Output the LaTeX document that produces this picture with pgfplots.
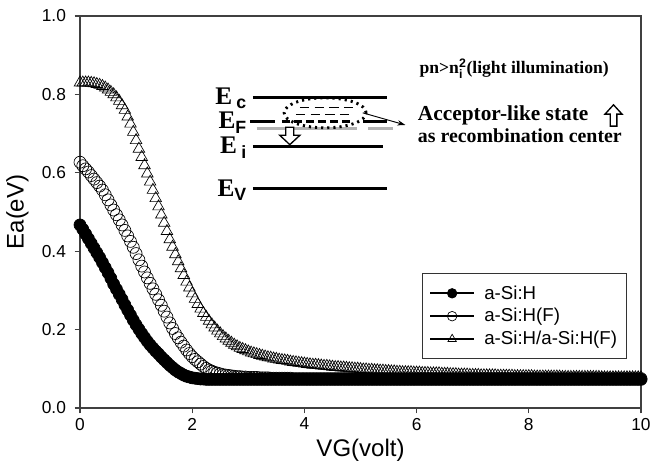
\documentclass[border=0pt]{standalone}
\usepackage{pgfplots}
\pgfplotsset{compat=1.18}
\usepackage{pgfplotstable}
\usepackage{fontspec}
\setmainfont{Liberation Sans}
\newfontfamily\serifb{Liberation Serif}
\usetikzlibrary{arrows.meta}
\pgfplotstableread{
x a b c
0.00 0.467 0.627 0.830
0.05 0.456 0.618 0.830
0.10 0.444 0.610 0.830
0.15 0.432 0.602 0.830
0.20 0.420 0.593 0.829
0.25 0.408 0.584 0.828
0.30 0.396 0.575 0.826
0.35 0.384 0.566 0.824
0.40 0.371 0.556 0.821
0.45 0.358 0.544 0.817
0.50 0.345 0.531 0.812
0.55 0.331 0.518 0.806
0.60 0.316 0.505 0.800
0.65 0.303 0.493 0.792
0.70 0.290 0.480 0.783
0.75 0.277 0.467 0.772
0.80 0.263 0.453 0.760
0.85 0.250 0.439 0.743
0.90 0.237 0.425 0.725
0.95 0.224 0.410 0.704
1.00 0.212 0.394 0.683
1.05 0.201 0.378 0.661
1.10 0.190 0.362 0.640
1.15 0.180 0.347 0.619
1.20 0.170 0.332 0.598
1.25 0.161 0.318 0.577
1.30 0.153 0.304 0.556
1.35 0.145 0.290 0.535
1.40 0.138 0.276 0.514
1.45 0.130 0.262 0.493
1.50 0.123 0.247 0.472
1.55 0.116 0.232 0.451
1.60 0.109 0.217 0.430
1.65 0.103 0.203 0.411
1.70 0.097 0.190 0.392
1.75 0.092 0.179 0.374
1.80 0.088 0.168 0.356
1.85 0.084 0.158 0.339
1.90 0.081 0.148 0.322
1.95 0.079 0.139 0.307
2.00 0.077 0.131 0.292
2.05 0.076 0.124 0.278
2.10 0.075 0.118 0.265
2.15 0.074 0.112 0.253
2.20 0.074 0.106 0.242
2.25 0.073 0.101 0.232
2.30 0.073 0.097 0.222
2.35 0.073 0.094 0.213
2.40 0.073 0.091 0.205
2.45 0.073 0.089 0.197
2.50 0.073 0.087 0.190
2.55 0.073 0.085 0.183
2.60 0.073 0.084 0.177
2.65 0.073 0.083 0.171
2.70 0.073 0.082 0.166
2.75 0.073 0.081 0.161
2.80 0.073 0.080 0.157
2.85 0.073 0.080 0.153
2.90 0.073 0.079 0.150
2.95 0.073 0.079 0.147
3.00 0.073 0.078 0.144
3.05 0.073 0.078 0.141
3.10 0.073 0.078 0.139
3.15 0.073 0.078 0.137
3.20 0.073 0.077 0.135
3.25 0.073 0.077 0.133
3.30 0.073 0.077 0.131
3.35 0.073 0.077 0.129
3.40 0.073 0.076 0.128
3.45 0.073 0.076 0.126
3.50 0.073 0.076 0.125
3.55 0.073 0.076 0.123
3.60 0.073 0.076 0.122
3.65 0.073 0.076 0.121
3.70 0.073 0.076 0.120
3.75 0.073 0.076 0.118
3.80 0.073 0.075 0.117
3.85 0.073 0.075 0.116
3.90 0.073 0.075 0.115
3.95 0.073 0.075 0.114
4.00 0.073 0.075 0.113
4.05 0.073 0.075 0.112
4.10 0.073 0.075 0.111
4.15 0.073 0.075 0.110
4.20 0.073 0.075 0.110
4.25 0.073 0.075 0.109
4.30 0.073 0.075 0.108
4.35 0.073 0.075 0.107
4.40 0.073 0.075 0.107
4.45 0.073 0.075 0.106
4.50 0.073 0.075 0.105
4.55 0.073 0.075 0.104
4.60 0.073 0.075 0.104
4.65 0.073 0.075 0.103
4.70 0.073 0.075 0.103
4.75 0.073 0.075 0.102
4.80 0.073 0.075 0.101
4.85 0.073 0.075 0.101
4.90 0.073 0.075 0.100
4.95 0.073 0.075 0.100
5.00 0.073 0.075 0.099
5.05 0.073 0.075 0.098
5.10 0.073 0.075 0.098
5.15 0.073 0.075 0.097
5.20 0.073 0.075 0.097
5.25 0.073 0.075 0.096
5.30 0.073 0.075 0.096
5.35 0.073 0.075 0.095
5.40 0.073 0.075 0.095
5.45 0.073 0.075 0.094
5.50 0.073 0.075 0.094
5.55 0.073 0.075 0.093
5.60 0.073 0.075 0.093
5.65 0.073 0.075 0.092
5.70 0.073 0.075 0.092
5.75 0.073 0.075 0.091
5.80 0.073 0.075 0.091
5.85 0.073 0.075 0.091
5.90 0.073 0.075 0.091
5.95 0.073 0.075 0.090
6.00 0.073 0.075 0.090
6.05 0.073 0.075 0.090
6.10 0.073 0.075 0.089
6.15 0.073 0.075 0.089
6.20 0.073 0.075 0.089
6.25 0.073 0.075 0.088
6.30 0.073 0.075 0.088
6.35 0.073 0.075 0.088
6.40 0.073 0.075 0.088
6.45 0.073 0.075 0.087
6.50 0.073 0.075 0.087
6.55 0.073 0.075 0.087
6.60 0.073 0.075 0.086
6.65 0.073 0.075 0.086
6.70 0.073 0.075 0.086
6.75 0.073 0.075 0.085
6.80 0.073 0.075 0.085
6.85 0.073 0.075 0.085
6.90 0.073 0.075 0.085
6.95 0.073 0.075 0.084
7.00 0.073 0.075 0.084
7.05 0.073 0.075 0.084
7.10 0.073 0.075 0.084
7.15 0.073 0.075 0.083
7.20 0.073 0.075 0.083
7.25 0.073 0.075 0.083
7.30 0.073 0.075 0.083
7.35 0.073 0.075 0.083
7.40 0.073 0.075 0.083
7.45 0.073 0.075 0.082
7.50 0.073 0.075 0.082
7.55 0.073 0.075 0.082
7.60 0.073 0.075 0.082
7.65 0.073 0.075 0.082
7.70 0.073 0.075 0.082
7.75 0.073 0.075 0.081
7.80 0.073 0.075 0.081
7.85 0.073 0.075 0.081
7.90 0.073 0.075 0.081
7.95 0.073 0.075 0.081
8.00 0.073 0.075 0.081
8.05 0.073 0.075 0.081
8.10 0.073 0.075 0.080
8.15 0.073 0.075 0.080
8.20 0.073 0.075 0.080
8.25 0.073 0.075 0.080
8.30 0.073 0.075 0.080
8.35 0.073 0.075 0.080
8.40 0.073 0.075 0.080
8.45 0.073 0.075 0.080
8.50 0.073 0.075 0.080
8.55 0.073 0.075 0.080
8.60 0.073 0.075 0.079
8.65 0.073 0.075 0.079
8.70 0.073 0.075 0.079
8.75 0.073 0.075 0.079
8.80 0.073 0.075 0.079
8.85 0.073 0.075 0.079
8.90 0.073 0.075 0.079
8.95 0.073 0.075 0.079
9.00 0.073 0.075 0.079
9.05 0.073 0.075 0.079
9.10 0.073 0.075 0.079
9.15 0.073 0.075 0.079
9.20 0.073 0.075 0.079
9.25 0.073 0.075 0.079
9.30 0.073 0.075 0.078
9.35 0.073 0.075 0.078
9.40 0.073 0.075 0.078
9.45 0.073 0.075 0.078
9.50 0.073 0.075 0.078
9.55 0.073 0.075 0.078
9.60 0.073 0.075 0.078
9.65 0.073 0.075 0.078
9.70 0.073 0.075 0.078
9.75 0.073 0.075 0.078
9.80 0.073 0.075 0.078
9.85 0.073 0.075 0.078
9.90 0.073 0.075 0.078
9.95 0.073 0.075 0.078
10.00 0.073 0.075 0.078
}\data
\begin{document}
\begin{tikzpicture}
\path[use as bounding box] (-60pt,-48pt) rectangle (427.5pt,306pt);
\begin{axis}[
  at={(0,0)}, anchor=south west,
  scale only axis, width=420.75pt, height=294pt,
  xmin=0, xmax=10, ymin=0, ymax=1,
  xtick={0,2,4,6,8,10}, ytick={0,0.2,0.4,0.6,0.8,1.0},
  yticklabel style={xshift=-3pt, /pgf/number format/.cd, fixed, fixed zerofill, precision=1},
  /pgf/number format/assume math mode=true,
  tick align=outside, tick pos=left,
  major tick length=4pt,
  axis line style={black!75, line width=0.8pt},
  every tick/.style={black!75, line width=0.8pt},
  tick label style={font=\fontsize{13}{15}\selectfont},
  xlabel={VG(volt)}, ylabel={Ea(eV)},
  label style={font=\fontsize{18}{20}\selectfont},
  ylabel style={yshift=3pt},
  clip=false,
  legend style={at={(0.61,0.344)}, anchor=north west, draw=black!80, line width=0.6pt,
    font=\fontsize{14}{16}\selectfont, row sep=1.5pt, inner xsep=5pt, inner ysep=7pt,
    /tikz/every odd column/.append style={column sep=5pt}},
  legend cell align=left,
  legend image code/.code={
    \draw[black, line width=1.3pt, mark=none] (0pt,0pt) -- (33pt,0pt);
    \draw[mark size=3.6pt] plot coordinates {(16.5pt,0pt)};
  },
]
\addplot[only marks, mark=*, mark size=4.5pt, mark options={fill=black, draw=black, line width=0.5pt}] table[x=x, y=a] {\data};
\addlegendentry{a-Si:H}
\addplot[only marks, mark=o, mark size=4.5pt, mark options={fill=white, draw=black, line width=0.5pt}] table[x=x, y=b] {\data};
\addlegendentry{a-Si:H(F)}
\addplot[only marks, mark=triangle, mark size=5pt, mark options={fill=white, draw=black, line width=0.5pt}] table[x=x, y=c] {\data};
\addlegendentry{a-Si:H/a-Si:H(F)}
% band diagram inset
\draw[line width=2.2pt] (axis cs:3.08,0.793) -- (axis cs:5.47,0.793);
\draw[line width=2.2pt] (axis cs:3.08,0.668) -- (axis cs:5.40,0.668);
\draw[line width=2.2pt] (axis cs:3.08,0.559) -- (axis cs:5.47,0.559);
\draw[line width=2.2pt, black!30] (axis cs:3.15,0.714) -- (axis cs:4.94,0.714);
\draw[line width=2.2pt, black!30] (axis cs:5.13,0.714) -- (axis cs:5.58,0.714);
\draw[line width=2.2pt] (axis cs:3.03,0.732) -- (axis cs:3.48,0.732);
\draw[line width=2.2pt, dash pattern=on 6pt off 3pt] (axis cs:3.60,0.732) -- (axis cs:4.85,0.732);
\draw[line width=2.2pt] (axis cs:5.05,0.732) -- (axis cs:5.47,0.732);
\draw[line width=0.6pt, dash pattern=on 7pt off 4pt] (axis cs:3.92,0.768) -- (axis cs:4.87,0.768);
\draw[line width=0.6pt, dash pattern=on 7pt off 4pt] (axis cs:3.85,0.749) -- (axis cs:4.87,0.749);
\draw[line width=2.2pt, dash pattern=on 1.6pt off 3pt] (axis cs:4.37,0.753) ellipse [x radius=30.75pt, y radius=11.25pt];
\draw[line width=0.7pt, -{Stealth[length=6pt, width=4pt]}] (axis cs:5.04,0.753) -- (axis cs:5.80,0.722);
\coordinate (DA) at (axis cs:3.74,0.716);
\coordinate (UA) at (axis cs:9.51,0.719);
\node[anchor=east, inner sep=0pt, font=\serifb\bfseries\fontsize{19}{20}\selectfont] at (axis cs:2.98,0.790) {E\,$_{\mathbf{c}}$};
\node[anchor=east, inner sep=0pt, font=\serifb\bfseries\fontsize{19}{20}\selectfont] at (axis cs:2.98,0.728) {E$_{\mathbf{F}}$};
\node[anchor=east, inner sep=0pt, font=\serifb\bfseries\fontsize{19}{20}\selectfont] at (axis cs:2.98,0.664) {E\,$_{\mathbf{i}}$};
\node[anchor=east, inner sep=0pt, font=\serifb\bfseries\fontsize{19}{20}\selectfont] at (axis cs:2.98,0.555) {E$_{\mathbf{V}}$};
\node[inner sep=0pt, font=\serifb\bfseries\fontsize{13.2}{15}\selectfont] at (axis cs:7.74,0.866) {pn>n$_{\mathbf{i}}^{\mathbf{2}}$(light illumination)};
\node[anchor=west, inner sep=0pt, font=\serifb\bfseries\fontsize{16}{18}\selectfont] at (axis cs:6.02,0.747) {Acceptor-like state};
\node[anchor=west, inner sep=0pt, font=\serifb\bfseries\fontsize{14.9}{17}\selectfont] at (axis cs:6.02,0.694) {as recombination center};
\end{axis}
\draw[line width=1pt, fill=white, shift={(DA)}] (-3pt,0) -- (3pt,0) -- (3pt,-6pt) -- (7.5pt,-6pt) -- (0,-13pt) -- (-7.5pt,-6pt) -- (-3pt,-6pt) -- cycle;
\draw[line width=1pt, fill=white, shift={(UA)}] (-2.5pt,0) -- (2.5pt,0) -- (2.5pt,9pt) -- (6.4pt,9pt) -- (0,16pt) -- (-6.4pt,9pt) -- (-2.5pt,9pt) -- cycle;
\end{tikzpicture}
\end{document}
